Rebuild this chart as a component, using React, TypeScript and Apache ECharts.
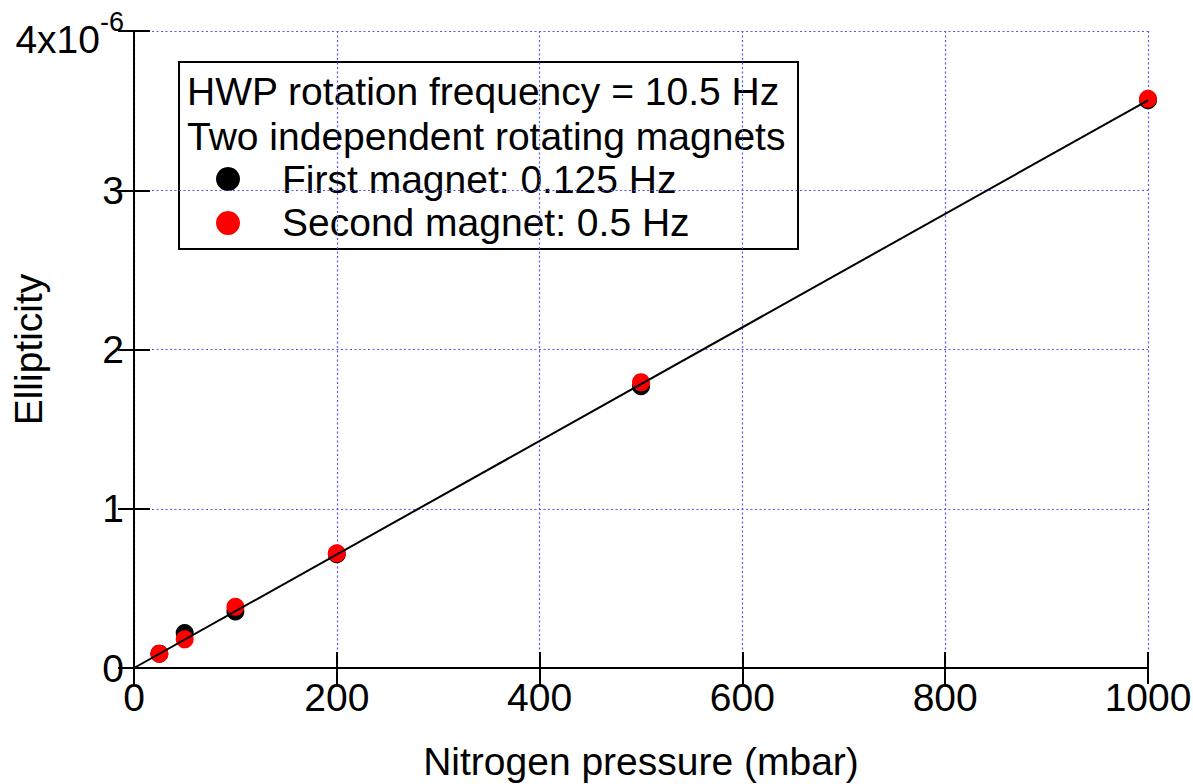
import React, { useEffect, useRef } from "react";
import * as echarts from "echarts";

const pressures = [25, 50, 100, 200, 500, 1000];
const firstMagnet = [0.09, 0.22, 0.355, 0.715, 1.77, 3.565];
const secondMagnet = [0.09, 0.18, 0.385, 0.72, 1.795, 3.575];
const fitLine = [
  [0, 0],
  [1000, 3.565],
];
const xTicks = [0, 200, 400, 600, 800, 1000];
const yTickLabels: Record<number, string> = { 0: "0", 1: "1", 2: "2", 3: "3", 4: "{b|4x10}{s|-6}" };
const legendLines = [
  "HWP rotation frequency = 10.5 Hz",
  "Two independent rotating magnets",
  "First magnet: 0.125 Hz",
  "Second magnet: 0.5 Hz",
];

const FONT = "Liberation Sans, Arial, Helvetica, sans-serif";
const FS = 39;

export default function App() {
  const ref = useRef<HTMLDivElement>(null);
  useEffect(() => {
    if (!ref.current) return;
    const chart = echarts.init(ref.current, undefined, { renderer: "svg" });
    const axisLine = { show: true, lineStyle: { color: "#000", width: 2 } };
    const axisTick = { show: true, inside: true, length: 16, lineStyle: { color: "#000", width: 2 } };
    const splitLine = { show: true, lineStyle: { color: "#5555ff", width: 1.2, type: [2, 2.5] as any } };
    chart.setOption({
      animation: false,
      backgroundColor: "#fff",
      textStyle: { fontFamily: FONT },
      grid: { left: 134, right: 45, top: 31, bottom: 116, containLabel: false, outerBoundsMode: "none" },
      xAxis: [
        {
          type: "value",
          min: 0,
          max: 1000,
          interval: 200,
          position: "bottom",
          axisLine,
          axisTick,
          splitLine,
          axisLabel: {
            color: "#000",
            fontSize: FS,
            fontFamily: FONT,
            margin: 10,
            formatter: (v: number) => (xTicks.includes(v) ? String(v) : ""),
          },
          name: "Nitrogen pressure (mbar)",
          nameLocation: "middle",
          nameMoveOverlap: false,
          nameGap: 74,
          nameTextStyle: { color: "#000", fontSize: FS, fontFamily: FONT },
        },
        {
          type: "value",
          min: 0,
          max: 1000,
          interval: 200,
          position: "top",
          axisLine,
          axisTick,
          splitLine: { show: false },
          axisLabel: { show: false },
        },
      ],
      yAxis: [
        {
          type: "value",
          min: 0,
          max: 4,
          interval: 1,
          position: "left",
          axisLine,
          axisTick,
          splitLine,
          axisLabel: {
            color: "#000",
            fontSize: FS,
            fontFamily: FONT,
            margin: 10,
            formatter: (v: number) => yTickLabels[v] ?? "",
            rich: {
              b: { fontSize: FS, fontFamily: FONT, color: "#000", padding: [16, 0, 0, 0] },
              s: { fontSize: 27, fontFamily: FONT, color: "#000", padding: [0, 0, 18, 0] },
            },
          },
          name: "Ellipticity",
          nameLocation: "middle",
          nameMoveOverlap: false,
          nameGap: 86,
          nameTextStyle: { color: "#000", fontSize: FS, fontFamily: FONT },
        },
        {
          type: "value",
          min: 0,
          max: 4,
          interval: 1,
          position: "right",
          axisLine,
          axisTick,
          splitLine: { show: false },
          axisLabel: { show: false },
        },
      ],
      series: [
        {
          name: "First magnet: 0.125 Hz",
          type: "scatter",
          symbol: "circle",
          symbolSize: 18,
          itemStyle: { color: "#000", opacity: 1 },
          data: pressures.map((p, i) => [p, firstMagnet[i]]),
          z: 2,
        },
        {
          name: "Second magnet: 0.5 Hz",
          type: "scatter",
          symbol: "circle",
          symbolSize: 18,
          itemStyle: { color: "#ff0000", opacity: 1 },
          data: pressures.map((p, i) => [p, secondMagnet[i]]),
          z: 3,
        },
        {
          name: "Fit",
          type: "line",
          showSymbol: false,
          symbol: "none",
          lineStyle: { color: "#000", width: 2 },
          data: fitLine,
          z: 4,
        },
      ],
      graphic: [
        {
          type: "group",
          left: 178,
          top: 61,
          children: [
            {
              type: "rect",
              shape: { x: 0, y: 0, width: 619, height: 187 },
              style: { fill: "#fff", stroke: "#000", lineWidth: 2 },
            },
            {
              type: "text",
              x: 8,
              y: 29,
              style: { text: legendLines[0], fontSize: FS, fontFamily: FONT, fill: "#000", verticalAlign: "middle" },
            },
            {
              type: "text",
              x: 8,
              y: 74,
              style: { text: legendLines[1], fontSize: FS, fontFamily: FONT, fill: "#000", verticalAlign: "middle" },
            },
            { type: "circle", shape: { cx: 49, cy: 117, r: 12 }, style: { fill: "#000" } },
            {
              type: "text",
              x: 103,
              y: 117,
              style: { text: legendLines[2], fontSize: FS, fontFamily: FONT, fill: "#000", verticalAlign: "middle" },
            },
            { type: "circle", shape: { cx: 49, cy: 161, r: 12 }, style: { fill: "#ff0000" } },
            {
              type: "text",
              x: 103,
              y: 160,
              style: { text: legendLines[3], fontSize: FS, fontFamily: FONT, fill: "#000", verticalAlign: "middle" },
            },
          ],
        },
      ],
    });
    return () => chart.dispose();
  }, []);
  return <div ref={ref} style={{ width: 1193, height: 784, position: "absolute", left: 0, top: 0 }} />;
}
